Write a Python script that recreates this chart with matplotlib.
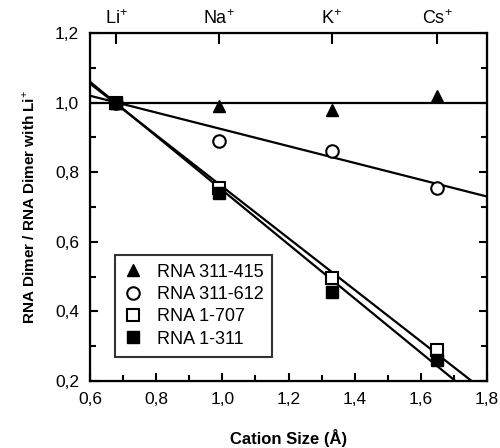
import numpy as np
import matplotlib
matplotlib.use("Agg")
import matplotlib.pyplot as plt
from matplotlib.ticker import MultipleLocator, FuncFormatter

plt.rcParams['font.family'] = ['Liberation Sans', 'DejaVu Sans']
plt.rcParams['mathtext.fontset'] = 'custom'
plt.rcParams['mathtext.rm'] = 'Liberation Sans'
plt.rcParams['mathtext.bf'] = 'Liberation Sans:bold'

# cation sizes (A)
cation_names = ['Li$^{+}$', 'Na$^{+}$', 'K$^{+}$', 'Cs$^{+}$']
cation_size = [0.68, 0.99, 1.33, 1.65]

# measured ratios
rna_311_415 = [1.00, 0.99, 0.98, 1.02]
rna_311_612 = [1.00, 0.89, 0.86, 0.755]
rna_1_707 = [1.00, 0.755, 0.495, 0.29]
rna_1_311 = [1.00, 0.74, 0.455, 0.26]

# fitted lines, value at x=0.6 and x=1.8
fit_x = [0.6, 1.8]
fit_311_415 = [1.0, 1.0]
fit_311_612 = [1.02, 0.73]
fit_1_707 = [1.055, 0.165]
fit_1_311 = [1.06, 0.125]

fig = plt.figure(figsize=(5, 4.48), dpi=100)
ax = fig.add_axes([0.18, 0.15, 0.794, 0.776])

for fy in [fit_311_415, fit_311_612, fit_1_707, fit_1_311]:
    ax.plot(fit_x, fy, color='black', lw=1.6, zorder=2)

ms = 9
ax.plot(cation_size, rna_311_415, '^', color='black', ms=ms, ls='none', label='RNA 311-415', zorder=3)
ax.plot(cation_size, rna_311_612, 'o', mfc='white', mec='black', mew=1.5, ms=ms, ls='none', label='RNA 311-612', zorder=3)
ax.plot(cation_size, rna_1_707, 's', mfc='white', mec='black', mew=1.5, ms=ms, ls='none', label='RNA 1-707', zorder=3)
ax.plot(cation_size, rna_1_311, 's', color='black', ms=ms, ls='none', label='RNA 1-311', zorder=4)

ax.set_xlim(0.6, 1.8)
ax.set_ylim(0.2, 1.2)
ax.xaxis.set_major_locator(MultipleLocator(0.2))
ax.xaxis.set_minor_locator(MultipleLocator(0.1))
ax.yaxis.set_major_locator(MultipleLocator(0.2))
ax.yaxis.set_minor_locator(MultipleLocator(0.1))
comma = FuncFormatter(lambda v, p: ('%.1f' % v).replace('.', ','))
ax.xaxis.set_major_formatter(comma)
ax.yaxis.set_major_formatter(comma)
ax.tick_params(which='both', direction='in', right=True, width=1.5, labelsize=12.5, pad=8)
ax.tick_params(which='major', length=6)
ax.tick_params(which='minor', length=4)
for s in ax.spines.values():
    s.set_linewidth(1.6)

top = ax.twiny()
top.set_xlim(ax.get_xlim())
top.set_xticks(cation_size)
top.set_xticklabels(cation_names)
top.tick_params(direction='in', length=8, width=1.5, labelsize=13, pad=4)

ax.set_xlabel('Cation Size (Å)', fontsize=12, fontweight='bold', labelpad=16)
ax.set_ylabel('RNA Dimer / RNA Dimer with Li$^{+}$', fontsize=11, fontweight='bold', labelpad=12)

leg = ax.legend(loc='lower left', bbox_to_anchor=(0.063, 0.069), frameon=True, fancybox=False,
                edgecolor='black', fontsize=13, handletextpad=0.8, borderpad=0.5,
                labelspacing=0.3, handlelength=1.0, borderaxespad=0)
leg.get_frame().set_linewidth(1.5)

fig.savefig('out.png', dpi=100)
